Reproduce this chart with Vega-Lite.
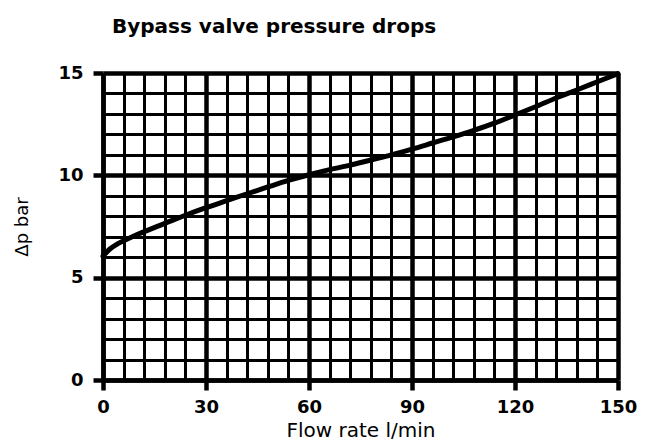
{
  "$schema": "https://vega.github.io/schema/vega-lite/v6.json",
  "autosize": {"type": "none"},
  "width": 515,
  "height": 307,
  "padding": {"left": 103, "top": 73, "right": 36, "bottom": 64},
  "background": "white",
  "title": {
    "text": "Bypass valve pressure drops",
    "anchor": "start",
    "frame": "group",
    "dx": 9,
    "offset": 27,
    "font": "DejaVu Sans",
    "fontSize": 20,
    "fontWeight": "bold",
    "color": "black"
  },
  "config": {
    "view": {"stroke": null},
    "axis": {
      "labelFont": "DejaVu Sans",
      "labelFontWeight": "bold",
      "labelFontSize": 18,
      "labelColor": "black",
      "titleFont": "DejaVu Sans",
      "titleFontWeight": "normal",
      "titleColor": "black",
      "domainColor": "black",
      "domainWidth": 4.5,
      "tickColor": "black",
      "gridColor": "black",
      "gridOpacity": 1
    }
  },
  "data": {
    "values": [
      {"flow": 0, "dp": 6.05},
      {"flow": 2, "dp": 6.4},
      {"flow": 4, "dp": 6.63},
      {"flow": 6, "dp": 6.8},
      {"flow": 9, "dp": 7.04},
      {"flow": 12, "dp": 7.25},
      {"flow": 18, "dp": 7.65},
      {"flow": 24, "dp": 8.05},
      {"flow": 30, "dp": 8.42},
      {"flow": 36, "dp": 8.76},
      {"flow": 42, "dp": 9.1},
      {"flow": 48, "dp": 9.43},
      {"flow": 54, "dp": 9.75},
      {"flow": 60, "dp": 10.03},
      {"flow": 66, "dp": 10.28},
      {"flow": 72, "dp": 10.5},
      {"flow": 78, "dp": 10.75},
      {"flow": 84, "dp": 11.0},
      {"flow": 90, "dp": 11.28},
      {"flow": 96, "dp": 11.58},
      {"flow": 102, "dp": 11.88},
      {"flow": 108, "dp": 12.2},
      {"flow": 114, "dp": 12.55},
      {"flow": 120, "dp": 12.95},
      {"flow": 126, "dp": 13.35},
      {"flow": 132, "dp": 13.78},
      {"flow": 138, "dp": 14.17},
      {"flow": 144, "dp": 14.57},
      {"flow": 150, "dp": 14.97}
    ]
  },
  "mark": {"type": "line", "color": "black", "strokeWidth": 5, "interpolate": "monotone", "strokeCap": "round"},
  "encoding": {
    "x": {
      "field": "flow",
      "type": "quantitative",
      "scale": {"domain": [0, 150], "nice": false, "zero": false},
      "axis": {
        "title": "Flow rate l/min",
        "titleFontSize": 20,
        "titlePadding": 4,
        "values": [0, 6, 12, 18, 24, 30, 36, 42, 48, 54, 60, 66, 72, 78, 84, 90, 96, 102, 108, 114, 120, 126, 132, 138, 144, 150],
        "labelExpr": "datum.value % 30 === 0 ? datum.label : ''",
        "labelPadding": 8,
        "labelFlush": false,
        "labelOverlap": false,
        "grid": true,
        "gridWidth": {"condition": {"test": "datum.value % 30 === 0", "value": 4.5}, "value": 3},
        "ticks": true,
        "tickSize": 10,
        "tickWidth": 4.5,
        "tickOpacity": {"condition": {"test": "datum.value % 30 === 0", "value": 1}, "value": 0}
      }
    },
    "y": {
      "field": "dp",
      "type": "quantitative",
      "scale": {"domain": [0, 15], "nice": false},
      "axis": {
        "title": "Δp bar",
        "titleFontSize": 18,
        "titlePadding": 26,
        "values": [0, 1, 2, 3, 4, 5, 6, 7, 8, 9, 10, 11, 12, 13, 14, 15],
        "labelExpr": "datum.value % 5 === 0 ? datum.label : ''",
        "labelPadding": 10,
        "labelFlush": false,
        "labelOverlap": false,
        "grid": true,
        "gridWidth": {"condition": {"test": "datum.value % 5 === 0", "value": 4.5}, "value": 3},
        "ticks": true,
        "tickSize": 10,
        "tickWidth": 4.5,
        "tickOpacity": {"condition": {"test": "datum.value % 5 === 0", "value": 1}, "value": 0}
      }
    }
  }
}
